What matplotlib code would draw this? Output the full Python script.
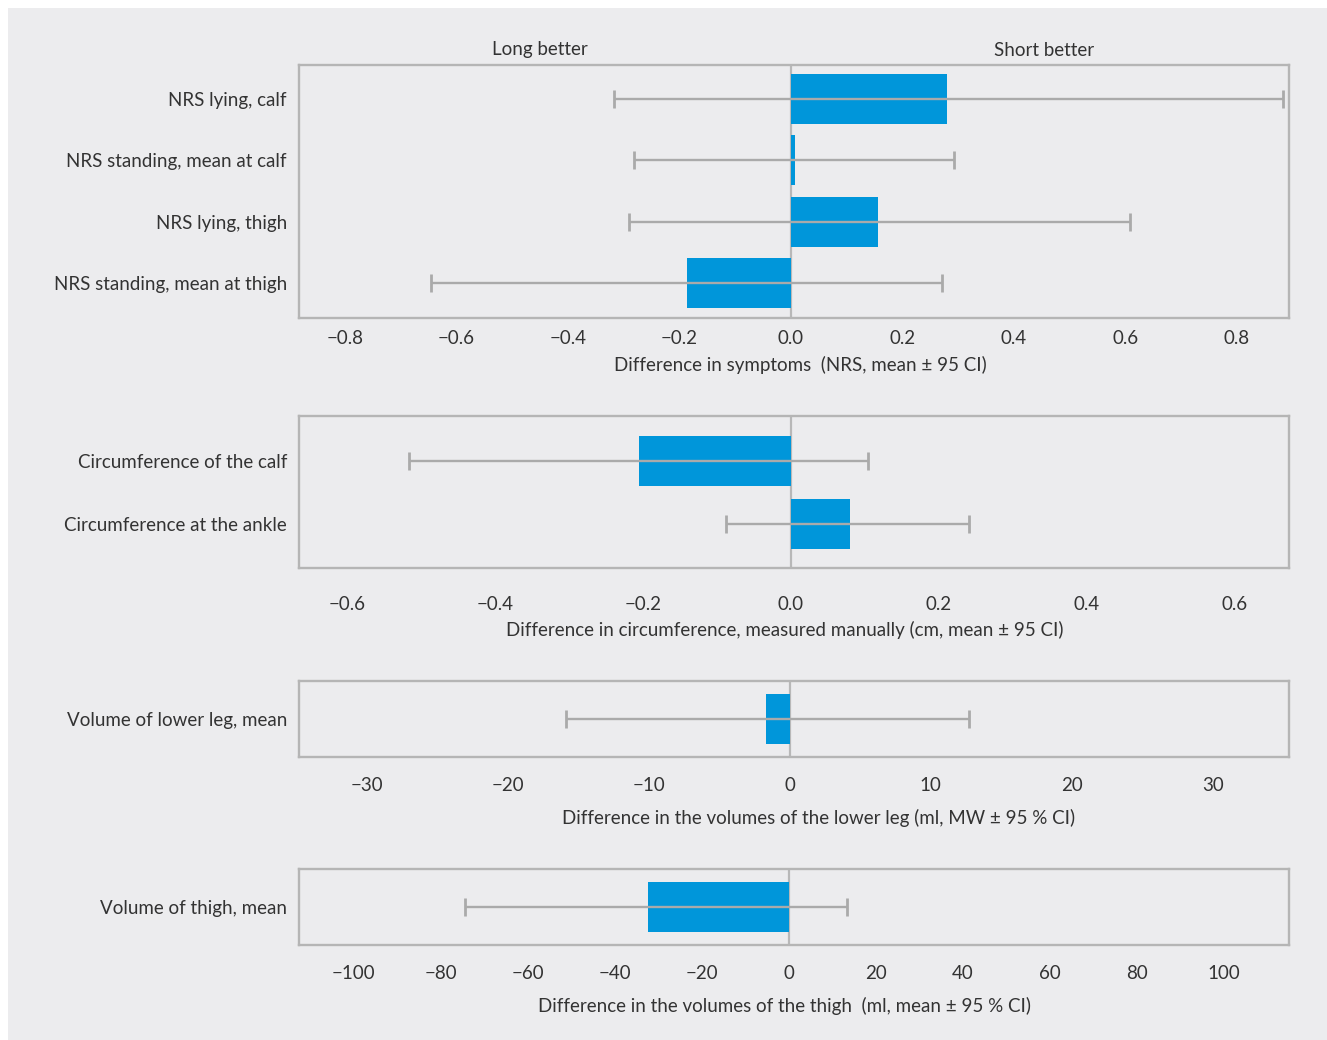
import matplotlib
matplotlib.use('Agg')
import matplotlib.pyplot as plt
from matplotlib.patches import Rectangle
from matplotlib.ticker import FuncFormatter

W, H = 1327, 1040
plt.rcParams['font.family'] = ['Lato', 'DejaVu Sans']

# symptoms (NRS)
nrs_labels = ['NRS lying, calf', 'NRS standing, mean at calf',
              'NRS lying, thigh', 'NRS standing, mean at thigh']
nrs_mean = [0.281, 0.008, 0.157, -0.186]
nrs_lo = [-0.317, -0.281, -0.290, -0.645]
nrs_hi = [0.883, 0.293, 0.609, 0.271]
nrs_ticks = [-0.8, -0.6, -0.4, -0.2, 0.0, 0.2, 0.4, 0.6, 0.8]

# circumference
circ_labels = ['Circumference of the calf', 'Circumference at the ankle']
circ_mean = [-0.205, 0.080]
circ_lo = [-0.516, -0.088]
circ_hi = [0.104, 0.241]
circ_ticks = [-0.6, -0.4, -0.2, 0.0, 0.2, 0.4, 0.6]

# volume lower leg
leg_labels = ['Volume of lower leg, mean']
leg_mean = [-1.7]
leg_lo = [-15.9]
leg_hi = [12.7]
leg_ticks = [-30, -20, -10, 0, 10, 20, 30]

# volume thigh
thigh_labels = ['Volume of thigh, mean']
thigh_mean = [-32.5]
thigh_lo = [-74.5]
thigh_hi = [13.3]
thigh_ticks = [-100, -80, -60, -40, -20, 0, 20, 40, 60, 80, 100]

xlabels = ['Difference in symptoms  (NRS, mean \u00b1 95 CI)',
           'Difference in circumference, measured manually (cm, mean \u00b1 95 CI)',
           'Difference in the volumes of the lower leg (ml, MW \u00b1 95\u202f% CI)',
           'Difference in the volumes of the thigh  (ml, mean \u00b1 95\u202f% CI)']

BG = '#ececee'
BLUE = '#0096da'
GREY = '#aaaaaa'
TXT = '#333333'
FS = 13.5


def fmt1(v, p):
    return ('%.1f' % v).replace('-', '\u2212')


def fmt0(v, p):
    return ('%d' % round(v)).replace('-', '\u2212')


fig = plt.figure(figsize=(W / 100, H / 100), dpi=100, facecolor='white')
fig.patches.append(Rectangle((8 / W, 0), 1, (H - 8) / H, transform=fig.transFigure,
                             facecolor=BG, edgecolor='none', zorder=-10))

# layout in pixels: top, bottom, xlim, ylim(top,bottom), bar height, tick pad(px), xlabel centre
panels = [
    (nrs_labels, nrs_mean, nrs_lo, nrs_hi, nrs_ticks, fmt1,
     65, 318, (-0.882, 0.894), (-0.555, 3.571), 0.816, 12, (800, 365)),
    (circ_labels, circ_mean, circ_lo, circ_hi, circ_ticks, fmt1,
     416, 568, (-0.665, 0.674), (-0.714, 1.698), 0.79, 28, (785, 630)),
    (leg_labels, leg_mean, leg_lo, leg_hi, leg_ticks, fmt0,
     681, 757, (-34.8, 35.4), (-0.613, 0.613), 0.8, 20, (819, 818)),
    (thigh_labels, thigh_mean, thigh_lo, thigh_hi, thigh_ticks, fmt0,
     869, 945, (-112.6, 114.9), (-0.613, 0.613), 0.8, 20, (785, 1006)),
]

L, R = 299, 1289
for i, (labels, mean, lo, hi, ticks, fmt, top, bot, xlim, ylim, bh, pad, xl) in enumerate(panels):
    ax = fig.add_axes([L / W, 1 - bot / H, (R - L) / W, (bot - top) / H])
    ax.set_facecolor('none')
    y = list(range(len(labels)))
    ax.axvline(0, color='#b8b8b8', lw=1.6, zorder=1)
    ax.barh(y, mean, height=bh, color=BLUE, zorder=2)
    err = [[m - l for m, l in zip(mean, lo)], [h - m for m, h in zip(mean, hi)]]
    ax.errorbar(mean, y, xerr=err, fmt='none', ecolor=GREY, elinewidth=1.7,
                capsize=6.5, capthick=2, zorder=3)
    ax.set_xlim(*xlim)
    ax.set_ylim(ylim[1], ylim[0])
    ax.set_yticks(y)
    ax.set_yticklabels(labels)
    ax.set_xticks(ticks)
    ax.xaxis.set_major_formatter(FuncFormatter(fmt))
    ax.tick_params(axis='both', length=0, labelsize=FS, colors=TXT)
    ax.tick_params(axis='y', pad=12 * 0.72)
    ax.tick_params(axis='x', pad=pad * 0.72)
    for s in ax.spines.values():
        s.set_color('#b5b5b5')
        s.set_linewidth(1.7)
    fig.text(xl[0] / W, 1 - xl[1] / H, xlabels[i], ha='center', va='center',
             fontsize=FS, color=TXT)
    if i == 0:
        ax.text((540 - L) / (R - L), 1 + 15 / (bot - top), 'Long better',
                transform=ax.transAxes, ha='center', va='center', fontsize=FS, color=TXT)
        ax.text((1044 - L) / (R - L), 1 + 15 / (bot - top), 'Short better',
                transform=ax.transAxes, ha='center', va='center', fontsize=FS, color=TXT)

fig.savefig('out.png', dpi=100, facecolor='white')
